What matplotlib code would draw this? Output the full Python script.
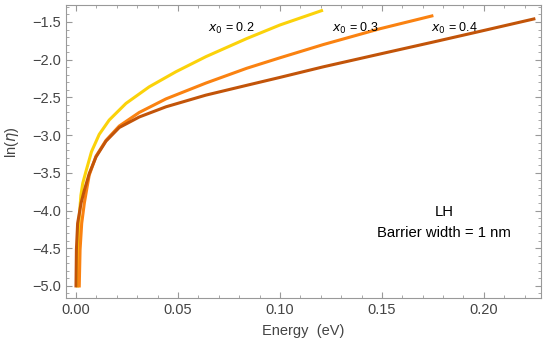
import matplotlib
matplotlib.use("Agg")
import matplotlib.pyplot as plt
from matplotlib.ticker import MultipleLocator

plt.rcParams['font.family'] = ['Liberation Sans', 'DejaVu Sans']

# x0 = 0.2
e_02 = [0.0008, 0.0012, 0.0016, 0.0024, 0.0033, 0.0049, 0.0076, 0.0114, 0.0163, 0.0245,
        0.0359, 0.049, 0.0637, 0.0837, 0.100, 0.1204]
ln_02 = [-5.0, -4.5, -4.08, -3.80, -3.64, -3.48, -3.22, -2.99, -2.80, -2.58,
         -2.36, -2.16, -1.96, -1.72, -1.54, -1.35]
# x0 = 0.3
e_03 = [0.0016, 0.002, 0.0028, 0.0041, 0.0055, 0.0065, 0.0098, 0.0147, 0.0212, 0.031,
        0.0441, 0.0637, 0.0837, 0.100, 0.1212, 0.149, 0.1745]
ln_03 = [-5.0, -4.52, -4.17, -3.90, -3.68, -3.53, -3.28, -3.07, -2.88, -2.70,
         -2.52, -2.31, -2.114, -1.975, -1.80, -1.59, -1.42]
# x0 = 0.4
e_04 = [0.0, 0.0002, 0.0008, 0.0025, 0.0041, 0.0065, 0.0098, 0.0147, 0.0212, 0.031,
        0.0441, 0.0637, 0.0837, 0.100, 0.1212, 0.149, 0.1745, 0.198, 0.2245]
ln_04 = [-5.0, -4.52, -4.17, -3.90, -3.73, -3.51, -3.29, -3.08, -2.90, -2.76,
         -2.625, -2.47, -2.34, -2.235, -2.095, -1.925, -1.77, -1.625, -1.46]

fig = plt.figure(figsize=(5.5, 3.53), dpi=100)
ax = fig.add_axes([66/550, 55/353, 475/550, 293/353])

ax.plot(e_02, ln_02, color='#FBD20A', lw=2.2, solid_joinstyle='round')
ax.plot(e_03, ln_03, color='#FA8211', lw=2.2, solid_joinstyle='round')
ax.plot(e_04, ln_04, color='#C25409', lw=2.2, solid_joinstyle='round')

ax.set_xlim(-0.0049, 0.228)
ax.set_ylim(-5.16, -1.275)
ax.xaxis.set_major_locator(MultipleLocator(0.05))
ax.xaxis.set_minor_locator(MultipleLocator(0.01))
ax.yaxis.set_major_locator(MultipleLocator(0.5))
ax.yaxis.set_minor_locator(MultipleLocator(0.1))
ax.xaxis.set_major_formatter(plt.FuncFormatter(lambda v, p: f"{v:.2f}"))
ax.yaxis.set_major_formatter(plt.FuncFormatter(lambda v, p: f"{v:.1f}".replace('-', '\u2212')))

ax.tick_params(which='both', direction='in', top=True, right=True, color='#999999',
               labelcolor='#444444', labelsize=10.5)
ax.tick_params(which='major', length=4)
ax.tick_params(which='minor', length=2.2)
for s in ax.spines.values():
    s.set_color('#999999')

ax.set_xlabel("Energy  (eV)", fontsize=10.5, color='#444444', labelpad=5)
ax.set_ylabel(r"ln($\eta$)", fontsize=10.5, color='#444444')
ax.yaxis.set_label_coords(-0.095, 0.53)

ax.text(0.0647, -1.58, r"$x_0$ = 0.2", fontsize=9, va='center')
ax.text(0.1255, -1.58, r"$x_0$ = 0.3", fontsize=9, va='center')
ax.text(0.174, -1.58, r"$x_0$ = 0.4", fontsize=9, va='center')
ax.text(0.1804, -4.02, "LH", fontsize=10.7, ha='center', va='center')
ax.text(0.1804, -4.30, "Barrier width = 1 nm", fontsize=10.7, ha='center', va='center')

fig.savefig("out.png", dpi=100)
